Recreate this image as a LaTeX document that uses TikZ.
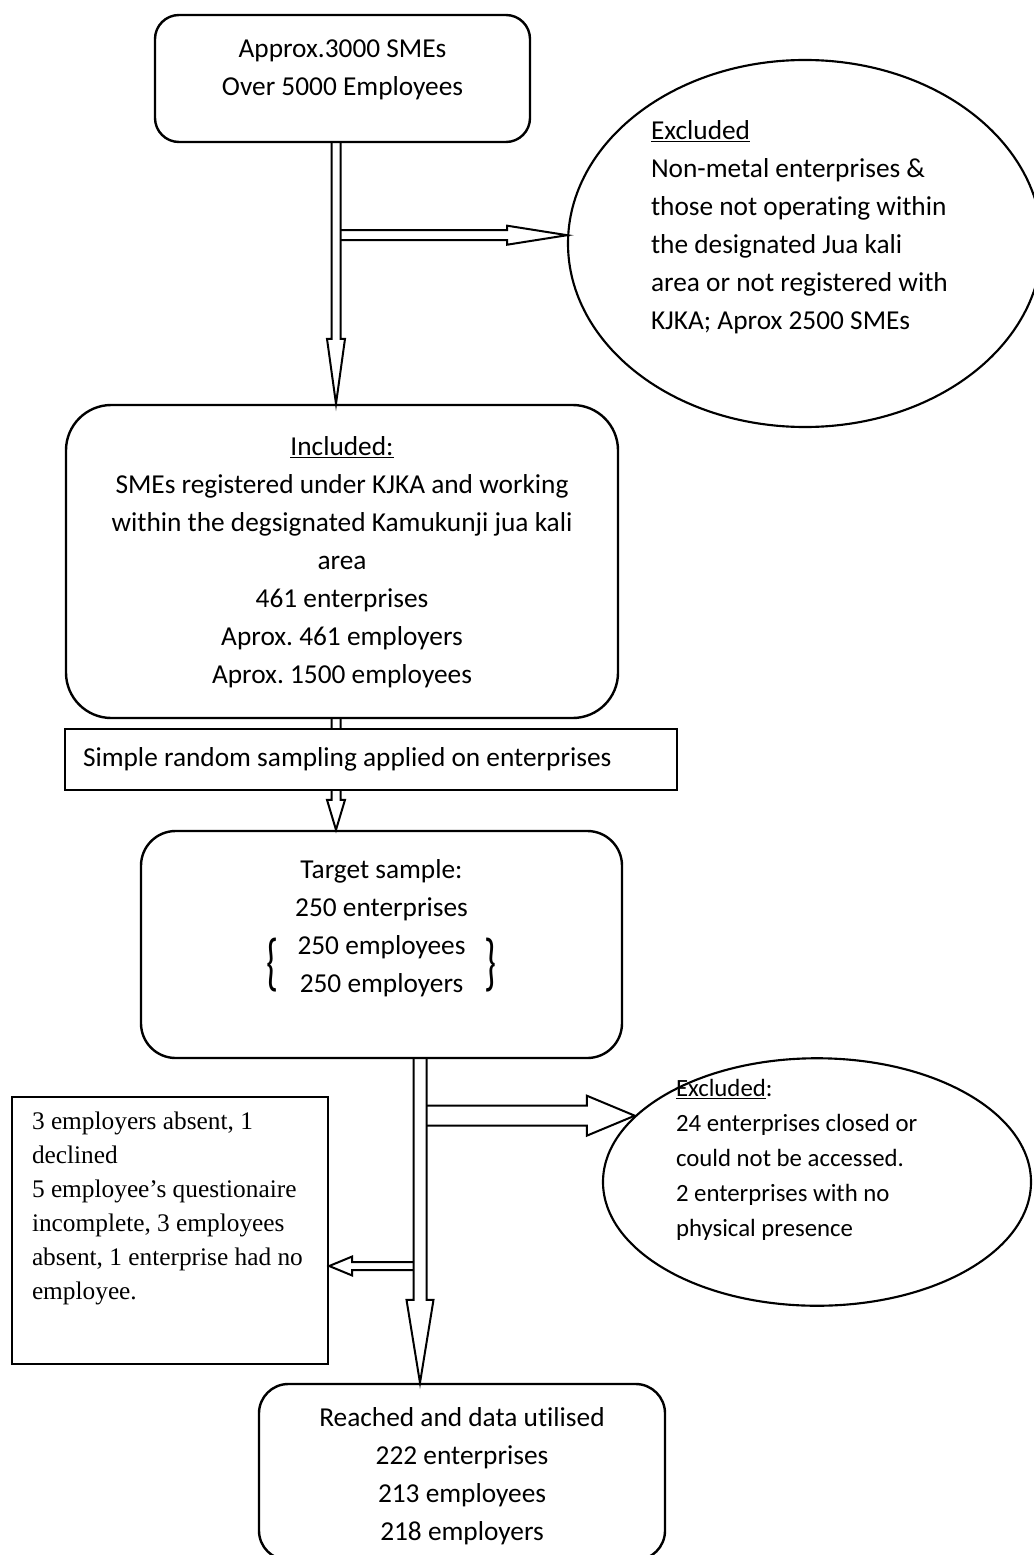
\documentclass[tikz,border=0pt]{standalone}
\usepackage{fontspec}
\setmainfont{Carlito}[Ligatures=NoCommon]
\newfontfamily\notefont{Liberation Serif}
\usetikzlibrary{calc,shapes.geometric}
\frenchspacing

\newcommand{\boxsize}{\fontsize{20.5pt}{28.5pt}\selectfont}
\newcommand{\exclsize}{\fontsize{18.6pt}{26.25pt}\selectfont}
\newcommand{\notesize}{\fontsize{19pt}{25.5pt}\selectfont\notefont}
% move the text inside its shape without changing the shape
\newcommand{\liftup}[2]{\raisebox{#1}[\height][\depth]{#2}}
\newcommand{\leftblock}[2]{\makebox[#1][l]{\begin{tabular}{@{}l@{}}#2\end{tabular}}}
\newcommand{\tallbrace}[1]{$\vcenter{\hbox{\scalebox{1.4}[2.3]{#1}}}$}
% hollow block arrows: from, tip, half shaft, head length, half head
\newcommand{\hollowdown}[5]{%
  \draw[hollow] ($(#1)+(-#3,0)$) -- ($(#2)+(-#3,-#4)$) -- ($(#2)+(-#5,-#4)$) -- (#2)
    -- ($(#2)+(#5,-#4)$) -- ($(#2)+(#3,-#4)$) -- ($(#1)+(#3,0)$);}
\newcommand{\hollowright}[5]{%
  \draw[hollow] ($(#1)+(0,-#3)$) -- ($(#2)+(-#4,-#3)$) -- ($(#2)+(-#4,-#5)$) -- (#2)
    -- ($(#2)+(-#4,#5)$) -- ($(#2)+(-#4,#3)$) -- ($(#1)+(0,#3)$);}
\newcommand{\hollowleft}[5]{%
  \draw[hollow] ($(#1)+(0,-#3)$) -- ($(#2)+(#4,-#3)$) -- ($(#2)+(#4,-#5)$) -- (#2)
    -- ($(#2)+(#4,#5)$) -- ($(#2)+(#4,#3)$) -- ($(#1)+(0,#3)$);}

\begin{document}
\begin{tikzpicture}[x=0.75pt,y=-0.75pt,
    roundbox/.style={draw,line width=1.8pt,inner sep=0pt,font=\boxsize},
    plainbox/.style={draw,line width=1.8pt,inner sep=0pt},
    exclbubble/.style={draw,ellipse,line width=1.6pt,inner sep=0pt},
    hollow/.style={line width=1.5pt,line join=miter}]
  \useasboundingbox (0,0) rectangle (1034,1555);

  \node[roundbox,rounded corners=18pt,minimum width=281.25pt,minimum height=95.25pt]
    (top) at (342.5,78.5)
    {\liftup{7pt}{\begin{tabular}{@{}c@{}}Approx.3000 SMEs\\Over 5000 Employees\end{tabular}}};
  \node[exclbubble,minimum width=355.5pt,minimum height=275.25pt,font=\boxsize]
    (excl1) at (805,243.5)
    {\liftup{12.75pt}{\leftblock{231pt}{\underline{Excluded}\\Non-metal enterprises \&\\
      those not operating within\\the designated Jua kali\\area or not registered with\\
      KJKA; Aprox 2500 SMEs}}};
  \node[roundbox,rounded corners=34pt,minimum width=414pt,minimum height=234.75pt]
    (incl) at (342,561.5)
    {\begin{tabular}{@{}c@{}}\underline{Included:}\\SMEs registered under KJKA and working\\
      within the degsignated Kamukunji jua kali\\area\\461 enterprises\\
      Aprox. 461 employers\\Aprox. 1500 employees\end{tabular}};
  \node[roundbox,rounded corners=26pt,minimum width=360.75pt,minimum height=170.25pt]
    (target) at (381.5,944.5)
    {\liftup{12.75pt}{\begin{tabular}{@{}c@{}}Target sample:\\250 enterprises\\
      \tallbrace{\{}\begin{tabular}{@{\hspace{14pt}}c@{\hspace{14pt}}}250 employees\\250 employers\end{tabular}\tallbrace{\}}\end{tabular}}};
  \node[exclbubble,minimum width=321pt,minimum height=180pt,font=\exclsize]
    (excl2) at (817,1182)
    {\liftup{17pt}{\leftblock{211.5pt}{\underline{Excluded}:\\24 enterprises closed or\\
      could not be accessed.\\2 enterprises with no\\physical presence}}};
  \node[plainbox,minimum width=237pt,minimum height=200.25pt,font=\notesize]
    (notes) at (170,1230.5)
    {\liftup{17pt}{\leftblock{207pt}{3 employers absent, 1\\declined\\
      5 employee’s questionaire\\incomplete, 3 employees\\absent, 1 enterprise had no\\employee.}}};
  \node[roundbox,rounded corners=22pt,minimum width=304.5pt,minimum height=132pt]
    (bottom) at (462,1472)
    {\liftup{-3pt}{\begin{tabular}{@{}c@{}}Reached and data utilised\\222 enterprises\\
      213 employees\\218 employers\end{tabular}}};

  % arrow columns
  \coordinate (spineA) at (336,0);
  \coordinate (spineC) at (420,0);

  \hollowdown{top.south -| spineA}{incl.north -| spineA}{4.5}{65}{9}
  \coordinate (armA) at ($(excl1.178 -| spineA)+(4.5,0)$);
  \hollowright{armA}{excl1.178}{5}{60}{9.5}

  \hollowdown{incl.south -| spineA}{target.north -| spineA}{4.5}{30}{9}

  \hollowdown{target.south -| spineC}{bottom.north -| spineC}{6.5}{83}{13.5}
  \coordinate (armC) at ($(excl2.160 -| spineC)+(6.5,0)$);
  \hollowright{armC}{excl2.160}{10}{48}{20}
  \coordinate (leftTip) at ($(notes.east)+(0,35.5)$);
  \coordinate (armL) at ($(leftTip -| spineC)+(-6.5,0)$);
  \hollowleft{armL}{leftTip}{4}{23}{9.5}

  % sampling step sits on top of the shaft
  \node[plainbox,fill=white,minimum width=459pt,minimum height=45.75pt,font=\boxsize]
    (samp) at (371,759.5) {\makebox[432pt][l]{Simple random sampling applied on enterprises}};
\end{tikzpicture}
\end{document}
